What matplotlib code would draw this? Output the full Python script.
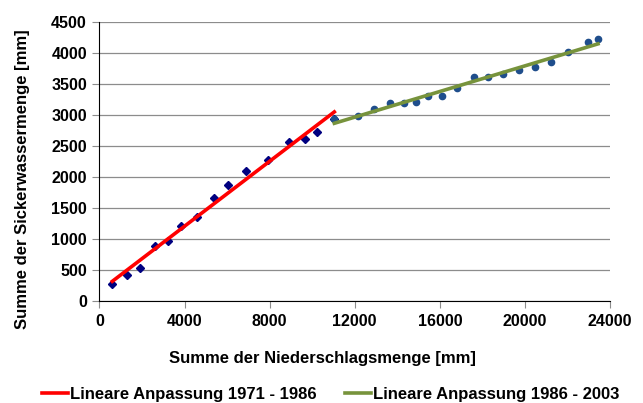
import numpy as np
import matplotlib
matplotlib.use("Agg")
import matplotlib.pyplot as plt

plt.rcParams['font.family'] = ['Liberation Sans', 'DejaVu Sans']
plt.rcParams['font.weight'] = 'bold'

# Period 1971 - 1986 (diamonds)
x1 = [602, 1278, 1890, 2625, 3220, 3848, 4568, 5400, 6040, 6903, 7922, 8910, 9662, 10211, 11040]
y1 = [269, 424, 532, 882, 973, 1215, 1360, 1666, 1876, 2097, 2280, 2565, 2613, 2731, 2930]

# Period 1986 - 2003 (circles)
x2 = [11040, 12138, 12920, 13672, 14316, 14866, 15444, 16088, 16794, 17593, 18265,
      18985, 19723, 20490, 21213, 22026, 22952, 23436]
y2 = [2930, 2979, 3092, 3188, 3199, 3210, 3301, 3301, 3441, 3608, 3608,
      3667, 3726, 3780, 3855, 4011, 4172, 4231]

x_ticks = [0, 4000, 8000, 12000, 16000, 20000, 24000]
y_ticks = list(range(0, 4501, 500))

fig = plt.figure(figsize=(6.43, 4.03), dpi=100)
ax = fig.add_axes([0.1547, 0.2531, 0.7940, 0.6923])

# linear fits (trend lines)
p1 = np.polyfit(x1, y1, 1)
p2 = np.polyfit(x2, y2, 1)
fx1 = np.array([min(x1), max(x1)])
fx2 = np.array([min(x2), max(x2)])

ax.plot(x1, y1, 'D', color='#000080', ms=4.2, zorder=3)
ax.plot(x2, y2, 'o', color='#1F4E8C', ms=4.5, zorder=3)
ax.plot(fx1, np.polyval(p1, fx1), color='#FF0000', lw=2.6, zorder=4,
        label='Lineare Anpassung 1971 - 1986')
ax.plot(fx2, np.polyval(p2, fx2), color='#77933C', lw=2.6, zorder=4,
        label='Lineare Anpassung 1986 - 2003')

ax.set_xlim(0, 24000)
ax.set_ylim(0, 4500)
ax.set_xticks(x_ticks)
ax.set_yticks(y_ticks)
ax.set_xticklabels([str(t) for t in x_ticks], fontweight='bold', fontsize=11.5)
ax.set_yticklabels([str(t) for t in y_ticks], fontweight='bold', fontsize=11.5)
ax.yaxis.grid(True, color='#8C8C8C', lw=0.9)
ax.set_axisbelow(True)
for s in ['top', 'right']:
    ax.spines[s].set_visible(False)
ax.spines['left'].set_color('black')
ax.spines['bottom'].set_color('black')
ax.tick_params(axis='both', direction='out', length=5, color='#8C8C8C', pad=4)

# axis titles placed like the original (centred on the figure)
fig.text(0.502, 1 - 358 / 403, 'Summe der Niederschlagsmenge [mm]', fontsize=12,
         fontweight='bold', ha='center', va='center')
fig.text(23 / 643, 1 - 179 / 403, 'Summe der Sickerwassermenge [mm]', fontsize=12,
         fontweight='bold', ha='center', va='center', rotation=90)

fig.legend(loc='center', bbox_to_anchor=(0.514, 1 - 394 / 403), ncol=2, frameon=False,
           prop={'size': 12, 'weight': 'bold'}, handlelength=1.56, handletextpad=0.12,
           columnspacing=1.74, borderpad=0)

fig.savefig('out.png', dpi=100)
